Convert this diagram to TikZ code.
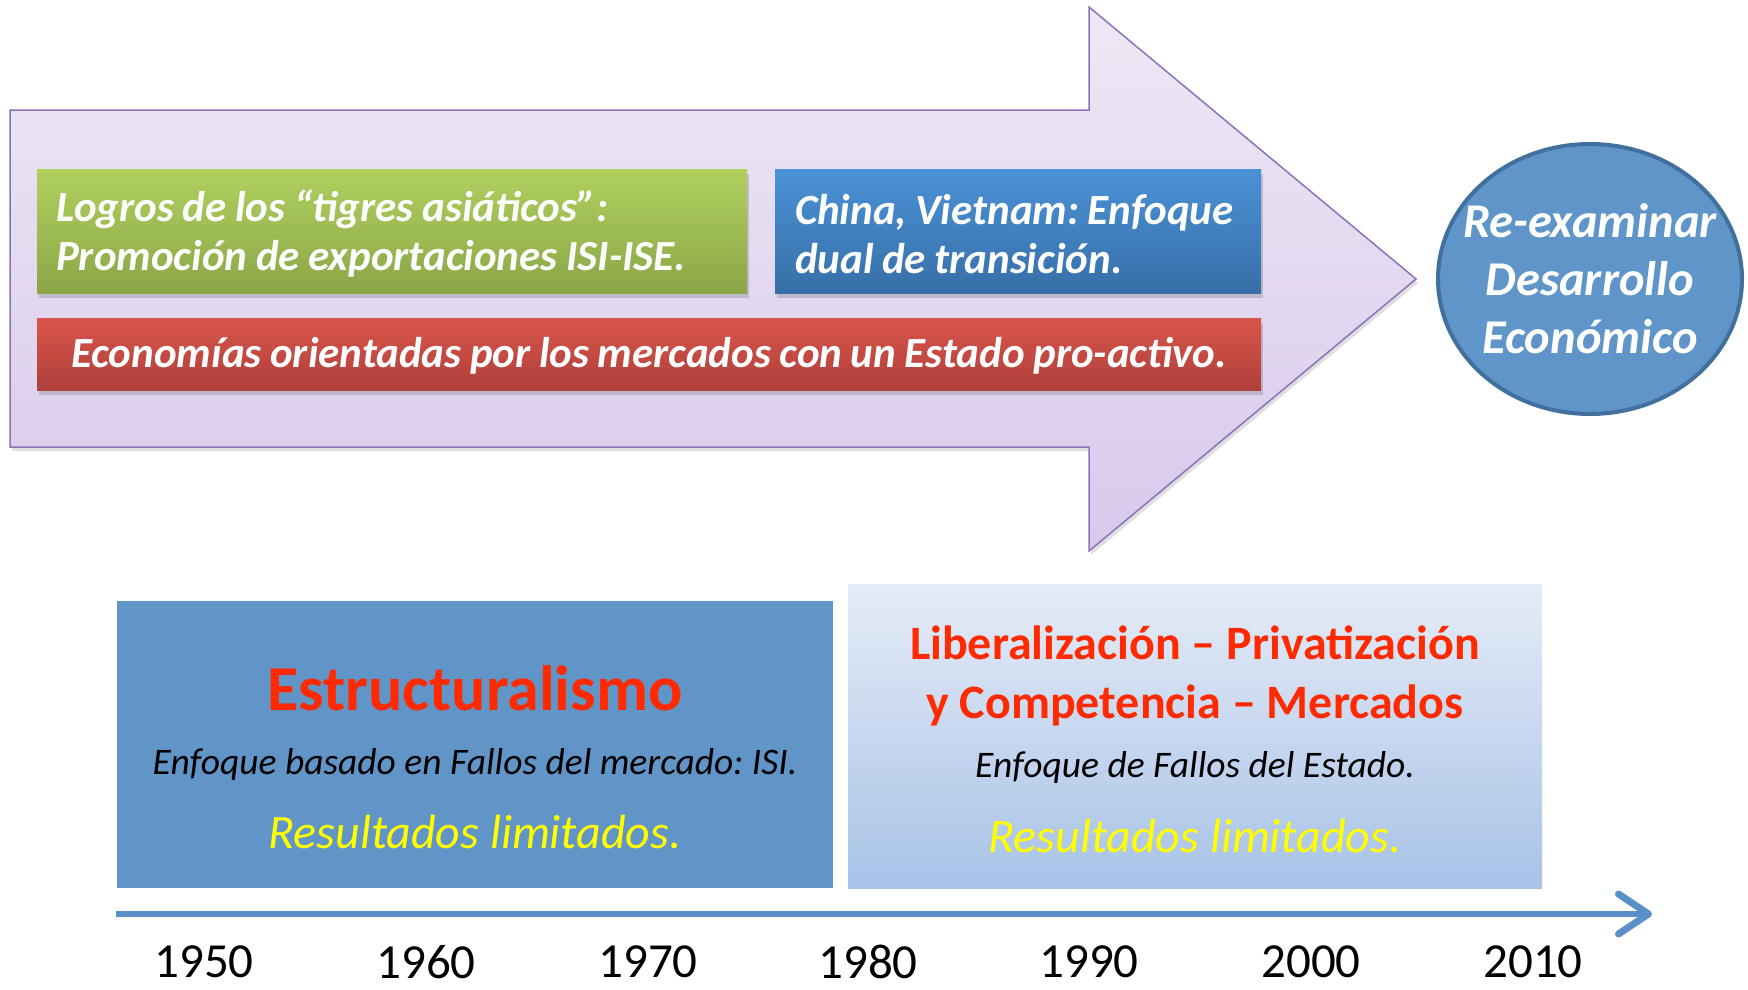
\documentclass[tikz,border=0pt]{standalone}
\usepackage{fontspec}
\setmainfont{Carlito}
\usetikzlibrary{shadows,arrows.meta,shapes.geometric}
\frenchspacing
\newcommand{\tightsp}{\spaceskip=0.2em plus 0.05em minus 0.05em\relax}
\definecolor{arrowtop}{HTML}{EEE8F5}
\definecolor{arrowbot}{HTML}{D8C9EC}
\definecolor{arrowline}{HTML}{8C72B8}
\definecolor{greentop}{HTML}{B0D05E}
\definecolor{greenbot}{HTML}{8BA648}
\definecolor{bluetop}{HTML}{4B92D6}
\definecolor{bluebot}{HTML}{376FA8}
\definecolor{redtop}{HTML}{DA554B}
\definecolor{redbot}{HTML}{AE403A}
\definecolor{circfill}{HTML}{6095C9}
\definecolor{circline}{HTML}{41709E}
\definecolor{leftbox}{HTML}{6195C8}
\definecolor{righttop}{HTML}{E5ECF7}
\definecolor{rightbot}{HTML}{A8C2E7}
\definecolor{tline}{HTML}{5B8FC8}
\definecolor{titlered}{HTML}{FF2A00}
\definecolor{resyellow}{HTML}{FFFF00}
\tikzset{
  topbox/.style={minimum height=124pt, inner sep=0pt,
    drop shadow={shadow xshift=2pt, shadow yshift=-5pt, opacity=0.35}},
  toptxt/.style={inner sep=0pt, align=left, anchor=west,
    text=white, font=\fontsize{43}{49}\selectfont\bfseries\itshape\tightsp},
  yearlbl/.style={font=\fontsize{49}{56}\selectfont, text=black, inner sep=0pt},
  title/.style={font=\fontsize{48}{56}\selectfont\bfseries, text=titlered, align=center, inner sep=0pt},
  subtxt/.style={font=\fontsize{37.5}{44}\selectfont\itshape, text=black, inner sep=0pt},
  restxt/.style={font=\fontsize{48}{56}\selectfont\itshape, text=resyellow, inner sep=0pt},
}
\begin{document}
\begin{tikzpicture}[x=1pt,y=-1pt]
\useasboundingbox (0,0) rectangle (1748,990);
% big arrow
\draw[draw=arrowline, line width=1.5pt, top color=arrowtop, bottom color=arrowbot,
  drop shadow={shadow xshift=2pt, shadow yshift=-4pt, opacity=0.25}]
  (10,110) -- (1089,110) -- (1089,7) -- (1416,279) -- (1089,551) -- (1089,447) -- (10,447) -- cycle;
% boxes in arrow
\node[topbox, top color=greentop, bottom color=greenbot, minimum width=710pt] (green) at (392,231) {};
\node[toptxt] (greentxt) at ([xshift=19pt, yshift=-3pt]green.west)
  {Logros de los “tigres asiáticos”:\\Promoción de exportaciones ISI-ISE.};
\node[topbox, top color=bluetop, bottom color=bluebot, minimum width=486pt] (blue) at (1018,231) {};
\node[toptxt] (bluetxt) at ([xshift=20pt, yshift=-3pt]blue.west)
  {China, Vietnam: Enfoque\\dual de transición.};
\node[topbox, top color=redtop, bottom color=redbot, minimum height=72pt, minimum width=1224pt] (red) at (649,354) {};
\node[toptxt, anchor=center] (redtxt) at ([yshift=-2pt]red.center)
  {Economías orientadas por los mercados con un Estado pro-activo.};
% circle
\node[ellipse, draw=circline, line width=4pt, fill=circfill, minimum width=304pt, minimum height=270pt,
  inner sep=0pt] (circ) at (1590,279) {};
\node[align=center, text=white, inner sep=0pt, font=\fontsize{48.5}{58}\selectfont\bfseries\itshape] (circtxt) at (circ.center)
  {Re-examinar\\Desarrollo\\Económico};
% bottom boxes
\node[fill=leftbox, minimum width=716pt, minimum height=287pt, inner sep=0pt] (lbox) at (475,744.5) {};
\node[top color=righttop, bottom color=rightbot, minimum width=694pt, minimum height=304pt, inner sep=0pt] (rbox) at (1195,736) {};
\node[font=\fontsize{64}{72}\selectfont\bfseries, text=titlered, inner sep=0pt] (estr) at (475,688) {Estructuralismo};
\node[subtxt] (enf1) at (475,764) {Enfoque basado en Fallos del mercado: ISI.};
\node[restxt] (res1) at (475,832) {Resultados limitados.};
\node[title] (lib1) at (1195,643) {Liberalización – Privatización};
\node[title] (lib2) at (1195,705) {y Competencia – Mercados};
\node[subtxt] (enf2) at (1195,767) {Enfoque de Fallos del Estado.};
\node[restxt] (res2) at (1195,836) {Resultados limitados.};
% timeline
\coordinate (t0) at (116,914);
\coordinate (t1) at (1652,914);
\draw[tline, line width=6pt, -{Straight Barb[length=30pt, width=40pt, line width=7pt, round]}] (t0) -- (t1);
\node[yearlbl] (y1950) at (204,962) {1950};
\node[yearlbl] (y1960) at (426,962) {1960};
\node[yearlbl] (y1970) at (648,962) {1970};
\node[yearlbl] (y1980) at (868,962) {1980};
\node[yearlbl] (y1990) at (1089,962) {1990};
\node[yearlbl] (y2000) at (1311,962) {2000};
\node[yearlbl] (y2010) at (1533,962) {2010};
\end{tikzpicture}
\end{document}
